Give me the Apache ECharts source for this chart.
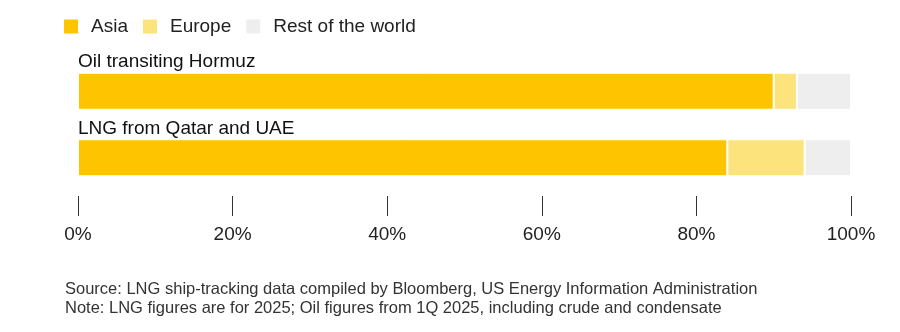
<!DOCTYPE html>
<html><head><meta charset="utf-8">
<script src="https://cdn.jsdelivr.net/npm/echarts@6/dist/echarts.min.js"></script>
<style>html,body{margin:0;padding:0;background:#fff}#c{width:900px;height:332px}</style>
</head><body><div id="c"></div>
<script>
const categories = ["Oil transiting Hormuz", "LNG from Qatar and UAE"];
const asia = [90, 84];
const europe = [3, 10];
const rest = [7, 6];
const tickValues = [0, 20, 40, 60, 80, 100];
const notes = [
  "Source: LNG ship-tracking data compiled by Bloomberg, US Energy Information Administration",
  "Note: LNG figures are for 2025; Oil figures from 1Q 2025, including crude and condensate"
];
const FONT = "Liberation Sans";
const chart = echarts.init(document.getElementById('c'), null, {renderer: 'canvas'});
const border = {borderColor: '#fff', borderWidth: 1};
chart.setOption({
  animation: false,
  textStyle: {fontFamily: FONT},
  legend: {
    left: 57, top: 12, itemWidth: 16, itemHeight: 16, itemGap: 13, icon: 'rect',
    textStyle: {fontSize: 19, color: '#222', fontFamily: FONT, padding: [0, 0, 0, 7]},
    data: ['Asia', 'Europe', 'Rest of the world']
  },
  grid: {left: 78, right: 49, top: 58, bottom: 141},
  xAxis: {
    type: 'value', min: 0, max: 100, interval: 20, position: 'bottom', offset: 5,
    splitLine: {show: false}, axisLine: {show: false},
    axisTick: {show: true, length: 20, lineStyle: {color: '#333', width: 1}},
    axisLabel: {margin: 29, fontSize: 19, color: '#222', fontFamily: FONT, formatter: v => v + '%',
      customValues: tickValues}
  },
  yAxis: {type: 'category', data: categories, inverse: true, show: false},
  series: [
    {name: 'Asia', type: 'bar', stack: 's', data: asia, barWidth: 37,
      itemStyle: Object.assign({color: '#ffc400'}, border),
      label: {show: true, position: [0, -20], formatter: p => p.name, color: '#111', fontSize: 19, fontFamily: FONT}},
    {name: 'Europe', type: 'bar', stack: 's', data: europe, itemStyle: Object.assign({color: '#fce37b'}, border)},
    {name: 'Rest of the world', type: 'bar', stack: 's', data: rest, itemStyle: Object.assign({color: '#eeeeee'}, border)}
  ],
  graphic: notes.map((t, i) => ({
    type: 'text', left: 65, top: 281 + i * 18.5,
    style: {text: t, fontSize: 16.5, fill: '#333', fontFamily: FONT}
  }))
});
</script></body></html>
